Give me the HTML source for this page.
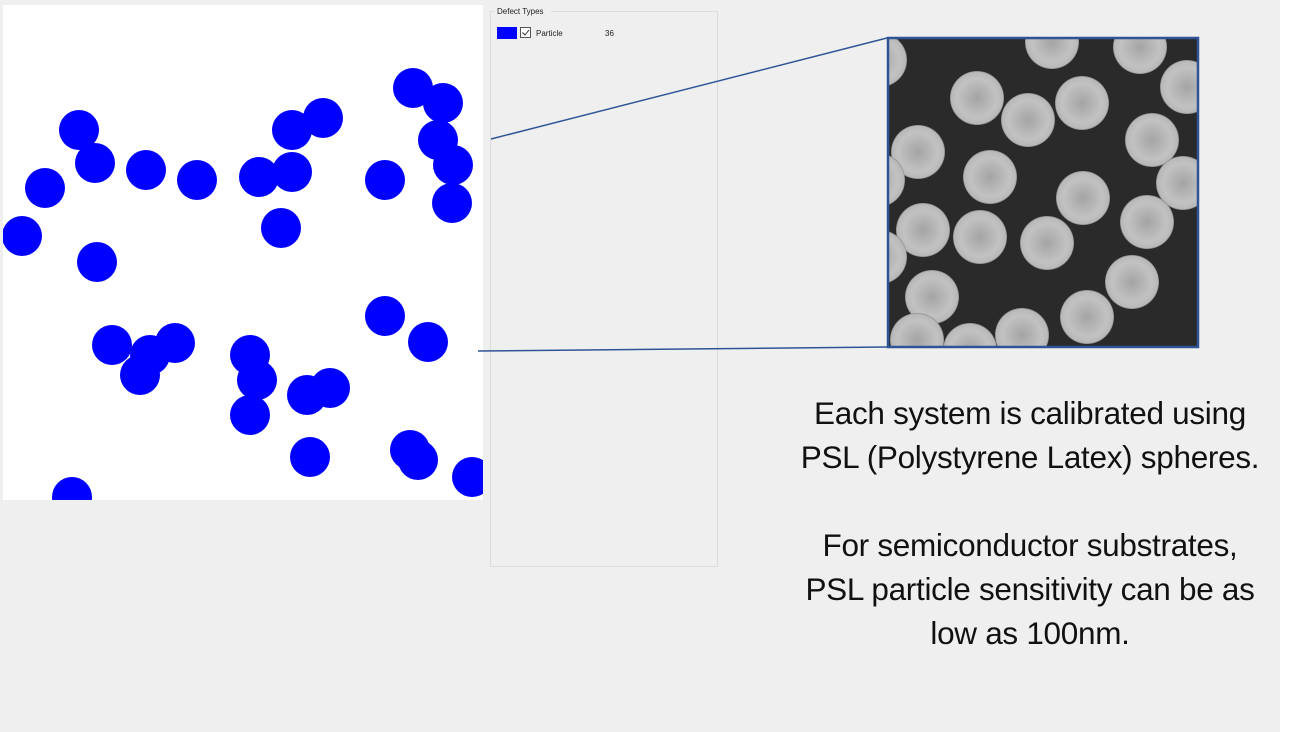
<!DOCTYPE html>
<html><head><meta charset="utf-8"><style>
body{margin:0;width:1307px;height:732px;background:#efefef;position:relative;overflow:hidden;font-family:"Liberation Sans",sans-serif}
.t{position:absolute;left:730px;width:600px;text-align:center;font-size:31.5px;color:#111;line-height:44px;letter-spacing:-0.3px}
</style></head><body>
<div style="position:absolute;left:1280px;top:0;width:27px;height:732px;background:#fff"></div>
<svg width="1307" height="732" style="position:absolute;left:0;top:0">
<defs>
<radialGradient id="g" cx="0.5" cy="0.5" r="0.52"><stop offset="0" stop-color="#a4a4a4"/><stop offset="0.7" stop-color="#c2c2c2"/><stop offset="0.92" stop-color="#b8b8b8"/><stop offset="1" stop-color="#555"/></radialGradient>
<clipPath id="c"><rect x="889" y="39" width="308" height="307"/></clipPath>
<clipPath id="b"><rect x="3" y="5" width="480" height="495"/></clipPath>
</defs>
<rect x="3" y="5" width="480" height="495" fill="#fff"/>
<g fill="#0000ff" clip-path="url(#b)">
<circle cx="79" cy="130" r="20"/><circle cx="95" cy="163" r="20"/><circle cx="45" cy="188" r="20"/><circle cx="22" cy="236" r="20"/><circle cx="97" cy="262" r="20"/><circle cx="146" cy="170" r="20"/><circle cx="197" cy="180" r="20"/><circle cx="259" cy="177" r="20"/><circle cx="292" cy="172" r="20"/><circle cx="292" cy="130" r="20"/><circle cx="323" cy="118" r="20"/><circle cx="281" cy="228" r="20"/><circle cx="385" cy="180" r="20"/><circle cx="413" cy="88" r="20"/><circle cx="443" cy="103" r="20"/><circle cx="438" cy="140" r="20"/><circle cx="453" cy="165" r="20"/><circle cx="452" cy="203" r="20"/><circle cx="112" cy="345" r="20"/><circle cx="140" cy="375" r="20"/><circle cx="175" cy="343" r="20"/><circle cx="150" cy="355" r="20"/><circle cx="250" cy="355" r="20"/><circle cx="257" cy="380" r="20"/><circle cx="250" cy="415" r="20"/><circle cx="307" cy="395" r="20"/><circle cx="330" cy="388" r="20"/><circle cx="385" cy="316" r="20"/><circle cx="428" cy="342" r="20"/><circle cx="310" cy="457" r="20"/><circle cx="410" cy="450" r="20"/><circle cx="418" cy="460" r="20"/><circle cx="472" cy="477" r="20"/><circle cx="72" cy="497" r="20"/>
</g>
<rect x="490.5" y="11.5" width="227" height="555" fill="none" stroke="#dcdcdc"/>
<rect x="495" y="9" width="56" height="6" fill="#efefef"/>
<text x="497" y="14" font-size="8" fill="#222">Defect Types</text>
<rect x="497" y="27" width="20" height="12" fill="#0000ff"/>
<rect x="520.5" y="27.5" width="10" height="10" fill="#fff" stroke="#555"/>
<path d="M522.5 32.5l2.5 2.5 4-5" stroke="#333" fill="none"/>
<text x="536" y="36" font-size="8" fill="#222">Particle</text>
<text x="605" y="36" font-size="8" fill="#222">36</text>
<line x1="491" y1="139" x2="887" y2="38" stroke="#2f5496" stroke-width="1.5"/>
<line x1="478" y1="351" x2="887" y2="347" stroke="#2f5496" stroke-width="1.5"/>
<rect x="888" y="38" width="310" height="309" fill="#2a2a2a"/>
<g clip-path="url(#c)" fill="url(#g)">
<circle cx="1052" cy="42" r="27"/><circle cx="1140" cy="47" r="27"/><circle cx="1187" cy="87" r="27"/><circle cx="977" cy="98" r="27"/><circle cx="1028" cy="120" r="27"/><circle cx="1082" cy="103" r="27"/><circle cx="918" cy="152" r="27"/><circle cx="1152" cy="140" r="27"/><circle cx="990" cy="177" r="27"/><circle cx="1183" cy="183" r="27"/><circle cx="1083" cy="198" r="27"/><circle cx="923" cy="230" r="27"/><circle cx="980" cy="237" r="27"/><circle cx="1047" cy="243" r="27"/><circle cx="1147" cy="222" r="27"/><circle cx="1132" cy="282" r="27"/><circle cx="932" cy="297" r="27"/><circle cx="1087" cy="317" r="27"/><circle cx="1022" cy="335" r="27"/><circle cx="917" cy="340" r="27"/><circle cx="970" cy="350" r="27"/><circle cx="880" cy="60" r="27"/><circle cx="878" cy="180" r="27"/><circle cx="880" cy="257" r="27"/>
</g>
<rect x="888" y="38" width="310" height="309" fill="none" stroke="#2f5496" stroke-width="2.5"/>
</svg>
<div class="t" style="top:391px">Each system is calibrated using<br>PSL (Polystyrene Latex) spheres.<br><br>For semiconductor substrates,<br>PSL particle sensitivity can be as<br>low as 100nm.</div>
</body></html>
